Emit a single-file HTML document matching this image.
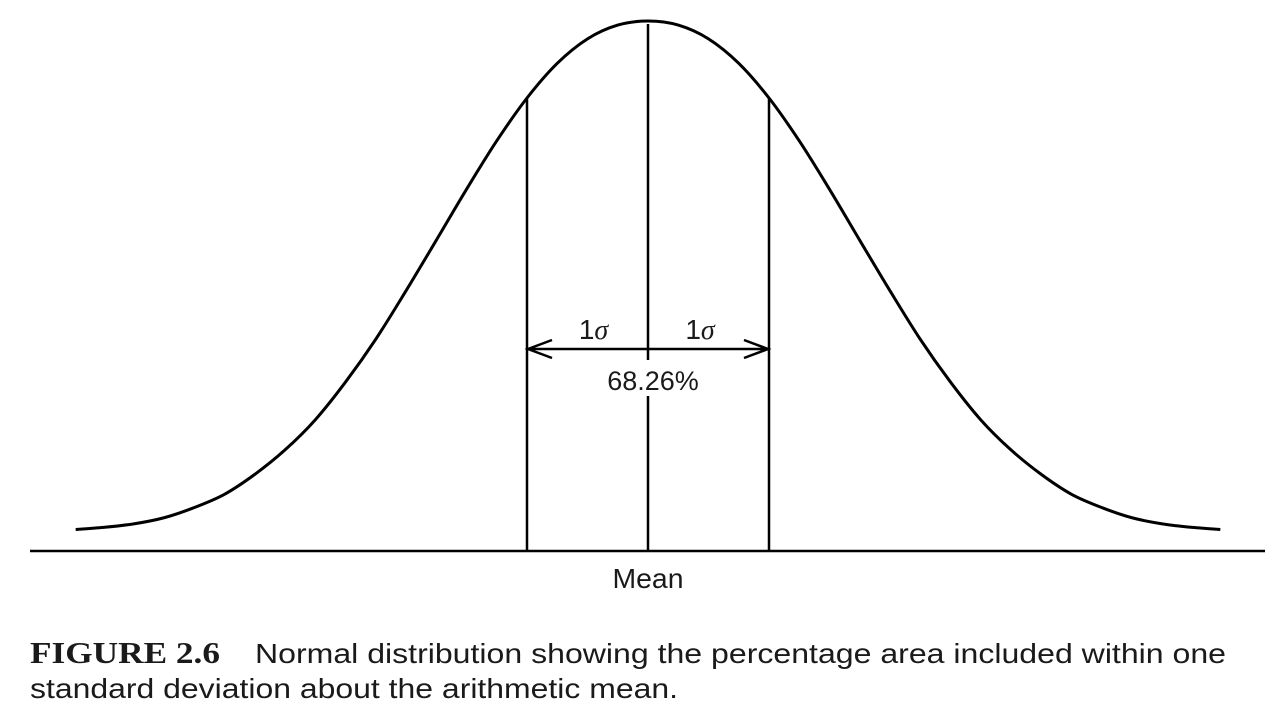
<!DOCTYPE html>
<html><head><meta charset="utf-8"><style>
html,body{margin:0;padding:0;background:#fff;}
svg{display:block;}
text{fill:#1a1a1a;}
</style></head><body>
<svg id="chart" width="1283" height="728" viewBox="0 0 1283 728" xmlns="http://www.w3.org/2000/svg">
<line x1="30" y1="551" x2="1265" y2="551" stroke="#000" stroke-width="2.5"/>
<g id="marks"></g>
<text x="648" y="588" font-family="Liberation Sans, sans-serif" font-size="28" text-anchor="middle" textLength="71" lengthAdjust="spacingAndGlyphs">Mean</text>
<text x="30" y="663" font-family="Liberation Serif, serif" font-weight="bold" font-size="31" textLength="190" lengthAdjust="spacingAndGlyphs">FIGURE 2.6</text>
<text x="255" y="663" font-family="Liberation Sans, sans-serif" font-size="28" textLength="971" lengthAdjust="spacingAndGlyphs">Normal distribution showing the percentage area included within one</text>
<text x="30" y="698" font-family="Liberation Sans, sans-serif" font-size="28" textLength="648" lengthAdjust="spacingAndGlyphs">standard deviation about the arithmetic mean.</text>
</svg>
<script>
// data: z (in sigma units) and relative curve height
const zValues = [0, 0.25, 0.5, 0.75, 1, 1.25, 1.5, 1.75, 2, 2.25, 2.5, 2.75, 3, 3.25, 3.5, 3.75, 4, 4.25, 4.5, 4.73];
const heights = [1, 0.992, 0.965, 0.917, 0.849, 0.765, 0.670, 0.570, 0.471, 0.376, 0.292, 0.218, 0.159, 0.111, 0.072, 0.046, 0.026, 0.014, 0.007, 0.003];
const sigmaMarks = [-1, 0, 1];
const sigmaLabels = ["1", "1"];
const areaLabel = ["68.26%"];

const NS = "http://www.w3.org/2000/svg";
const xScale = z => 648 + z * 121;
const yScale = h => 531 - h * 510;
const g = document.getElementById('marks');
function mk(tag, attrs){ const e=document.createElementNS(NS,tag); for(const k in attrs) e.setAttribute(k,attrs[k]); g.appendChild(e); return e; }

const pts = [];
for (let i = zValues.length-1; i > 0; i--) pts.push([xScale(-zValues[i]), yScale(heights[i])]);
for (let i = 0; i < zValues.length; i++) pts.push([xScale(zValues[i]), yScale(heights[i])]);
let d = "M" + pts[0][0] + "," + pts[0][1];
for (let i = 0; i < pts.length-1; i++) {
  const p0 = pts[Math.max(0,i-1)], p1 = pts[i], p2 = pts[i+1], p3 = pts[Math.min(pts.length-1,i+2)];
  const c1 = [p1[0]+(p2[0]-p0[0])/6, p1[1]+(p2[1]-p0[1])/6];
  const c2 = [p2[0]-(p3[0]-p1[0])/6, p2[1]-(p3[1]-p1[1])/6];
  d += " C"+c1[0]+","+c1[1]+" "+c2[0]+","+c2[1]+" "+p2[0]+","+p2[1];
}
const curve = mk('path',{d:d, fill:'none', stroke:'#000', 'stroke-width':3});



function heightAt(z){ const a=Math.abs(z); for(let i=0;i<zValues.length-1;i++){ if(a>=zValues[i]&&a<=zValues[i+1]){const t=(a-zValues[i])/(zValues[i+1]-zValues[i]); return heights[i]+t*(heights[i+1]-heights[i]);} } return 0; }

sigmaMarks.forEach(z => {
  const x = xScale(z);
  const l = mk('line',{x1:x, y1:yScale(heightAt(z))+ (z===0?3:0), x2:x, y2:551, stroke:'#000','stroke-width':2.5});
  
  
});

const ay = 349, xl = xScale(-1)+1, xr = xScale(1)-1;
const arrow = mk('path',{d:`M${xl},${ay} L${xr},${ay} M${xl+24},${ay-9} L${xl},${ay} L${xl+24},${ay+9} M${xr-24},${ay-9} L${xr},${ay} L${xr-24},${ay+9}`, fill:'none', stroke:'#000','stroke-width':2.5});



sigmaLabels.forEach((s,i) => {
  const t = mk('text',{x: xScale(i===0?-0.45:0.43), y: 339, 'font-family':'Liberation Sans, sans-serif','font-size':28,'text-anchor':'middle'});
  t.textContent = s;
  const ts = document.createElementNS(NS,'tspan');
  ts.setAttribute('font-family','Liberation Serif, serif');
  ts.setAttribute('font-style','italic');
  ts.textContent = 'σ';
  t.appendChild(ts);
  
  
});
const bg = mk('rect',{x:600, y:360, width:106, height:36, fill:'#fff'});


const at = mk('text',{x:653, y:390, 'font-family':'Liberation Sans, sans-serif','font-size':27,'text-anchor':'middle'});
at.textContent = areaLabel[0];


</script>
</body></html>
